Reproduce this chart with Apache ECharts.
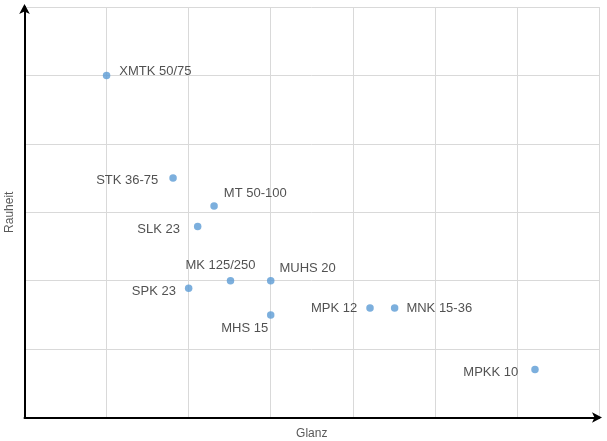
<!DOCTYPE html>
<html>
<head>
<meta charset="utf-8">
<style>
  html, body { margin: 0; padding: 0; background: #fff; }
  #chart { width: 607px; height: 441px; }
</style>
<script src="https://cdn.jsdelivr.net/npm/echarts@6/dist/echarts.min.js"></script>
</head>
<body>
<div id="chart"></div>
<script>
// Daten
const names   = ['XMTK 50/75', 'STK 36-75', 'MT 50-100', 'SLK 23', 'MK 125/250', 'MUHS 20', 'SPK 23', 'MHS 15', 'MPK 12', 'MNK 15-36', 'MPKK 10'];
const glanz   = [1.0, 1.81, 2.31, 2.11, 2.51, 3.0, 2.0, 3.0, 4.21, 4.51, 6.22];
const rauheit = [5.0, 3.5, 3.09, 2.79, 2.0, 2.0, 1.89, 1.5, 1.6, 1.6, 0.7];

// Beschriftungsposition je Punkt
const labelPlace = {
  'XMTK 50/75': { position: 'right', distance: 9, offset: [0, -4] },
  'STK 36-75':  { position: 'left', distance: 11, offset: [0, 2] },
  'MT 50-100':  { position: 'right', distance: 6, offset: [0, -13] },
  'SLK 23':     { position: 'left', distance: 14, offset: [0, 3] },
  'MK 125/250': { position: 'top', distance: 5, offset: [-10, 0] },
  'MUHS 20':    { position: 'right', distance: 5, offset: [0, -12] },
  'SPK 23':     { position: 'left', distance: 9, offset: [0, 3] },
  'MHS 15':     { position: 'bottom', distance: 3, offset: [-26, 0] },
  'MPK 12':     { position: 'left', distance: 9, offset: [0, 0] },
  'MNK 15-36':  { position: 'right', distance: 8, offset: [0, 0] },
  'MPKK 10':    { position: 'left', distance: 13, offset: [0, 3] }
};

const points = names.map((n, i) => ({
  name: n,
  value: [glanz[i], rauheit[i]],
  label: labelPlace[n]
}));

const axisLine = {
  show: true,
  symbol: ['none', 'arrow'],
  symbolSize: [8, 10],
  symbolOffset: [0, 3],
  lineStyle: { color: '#000', width: 2 }
};

const chart = echarts.init(document.getElementById('chart'));
chart.setOption({
  animation: false,
  grid: { left: 24.5, right: 8, top: 7, bottom: 23.5, outerBoundsMode: 'none' },
  xAxis: {
    type: 'value', min: 0, max: 7, interval: 1,
    name: 'Glanz', nameLocation: 'middle', nameGap: 10,
    nameTextStyle: { color: '#595959', fontSize: 12, fontFamily: 'Liberation Sans' },
    axisLine: axisLine,
    axisTick: { show: false },
    axisLabel: { show: false },
    splitLine: { show: true, lineStyle: { color: '#d9d9d9', width: 1 } }
  },
  yAxis: {
    type: 'value', min: 0, max: 6, interval: 1,
    name: 'Rauheit', nameLocation: 'middle', nameGap: 9, nameRotate: 90,
    nameTextStyle: { color: '#595959', fontSize: 12, fontFamily: 'Liberation Sans' },
    axisLine: axisLine,
    axisTick: { show: false },
    axisLabel: { show: false },
    splitLine: { show: true, lineStyle: { color: '#d9d9d9', width: 1 } }
  },
  series: [{
    type: 'scatter',
    symbolSize: 7.5,
    itemStyle: { color: '#5b9bd5' },
    label: {
      show: true,
      formatter: '{b}',
      color: '#262626',
      fontSize: 13,
      fontFamily: 'Liberation Sans'
    },
    data: points
  }]
});
</script>
</body>
</html>
